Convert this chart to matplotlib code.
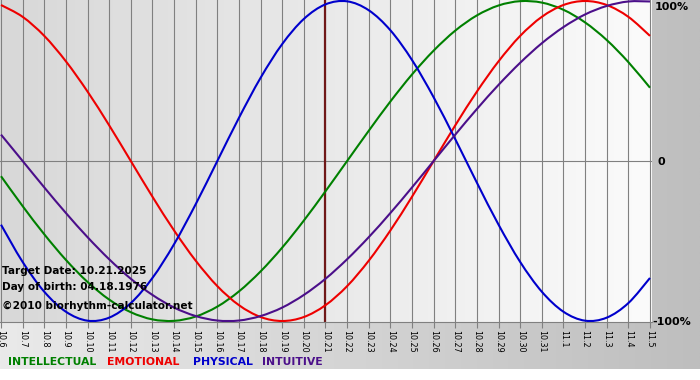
import numpy as np
import matplotlib
matplotlib.use('Agg')
import matplotlib.pyplot as plt
from matplotlib.path import Path
from matplotlib.patches import PathPatch

# days shown: 10.6 .. 11.5
DAY_LABELS = ['10.6', '10.7', '10.8', '10.9', '10.10', '10.11', '10.12', '10.13',
              '10.14', '10.15', '10.16', '10.17', '10.18', '10.19', '10.20', '10.21',
              '10.22', '10.23', '10.24', '10.25', '10.26', '10.27', '10.28', '10.29',
              '10.30', '10.31', '11.1', '11.2', '11.3', '11.4', '11.5']
TARGET_IDX = 15  # 10.21

# values read per day (fraction of 100%)
INTELLECTUAL = [-0.095, -0.282, -0.458, -0.618, -0.756, -0.866, -0.945, -0.990,
                -0.999, -0.972, -0.910, -0.815, -0.690, -0.541, -0.372, -0.189,
                0.0, 0.189, 0.372, 0.541, 0.690, 0.815, 0.910, 0.972,
                0.999, 0.990, 0.945, 0.866, 0.756, 0.618, 0.458]
EMOTIONAL = [0.975, 0.901, 0.782, 0.623, 0.434, 0.223, 0.0, -0.223,
             -0.434, -0.623, -0.782, -0.901, -0.975, -1.0, -0.975, -0.901,
             -0.782, -0.623, -0.434, -0.223, 0.0, 0.223, 0.434, 0.623,
             0.782, 0.901, 0.975, 1.0, 0.975, 0.901, 0.782]
PHYSICAL = [-0.398, -0.631, -0.817, -0.942, -0.998, -0.979, -0.888, -0.731,
            -0.520, -0.270, 0.0, 0.270, 0.520, 0.731, 0.888, 0.979,
            0.998, 0.942, 0.817, 0.631, 0.398, 0.136, -0.136, -0.398,
            -0.631, -0.817, -0.942, -0.998, -0.979, -0.888, -0.731]
INTUITIVE = [0.165, 0.0, -0.165, -0.325, -0.476, -0.614, -0.736, -0.837,
             -0.916, -0.969, -0.997, -0.997, -0.969, -0.916, -0.837, -0.736,
             -0.614, -0.476, -0.325, -0.165, 0.0, 0.165, 0.325, 0.476,
             0.614, 0.736, 0.837, 0.916, 0.969, 0.997, 0.997]

SERIES = [('INTELLECTUAL', INTELLECTUAL, '#008000'),
          ('EMOTIONAL', EMOTIONAL, '#ee0000'),
          ('PHYSICAL', PHYSICAL, '#0000cc'),
          ('INTUITIVE', INTUITIVE, '#4b0f8a')]
LEGEND_X = [8, 107, 193, 262]

W, H = 700, 380
fig = plt.figure(figsize=(W / 100, H / 100), dpi=100, facecolor='white')

def px(x, y):
    return x / W, 1 - y / H

def hgrad(lo, hi):
    g = np.linspace(lo, hi, 256) / 255
    return np.dstack([g, g, g]).repeat(2, axis=0)

def smooth_path(xs, ys):
    # draw a smooth curve through the points (Catmull-Rom as cubic Beziers)
    xs, ys = np.asarray(xs, float), np.asarray(ys, float)
    verts = [(xs[0], ys[0])]
    codes = [Path.MOVETO]
    n = len(xs)
    for i in range(n - 1):
        p0 = (xs[max(i - 1, 0)], ys[max(i - 1, 0)])
        p1 = (xs[i], ys[i])
        p2 = (xs[i + 1], ys[i + 1])
        p3 = (xs[min(i + 2, n - 1)], ys[min(i + 2, n - 1)])
        c1 = (p1[0] + (p2[0] - p0[0]) / 6, p1[1] + (p2[1] - p0[1]) / 6)
        c2 = (p2[0] - (p3[0] - p1[0]) / 6, p2[1] - (p3[1] - p1[1]) / 6)
        verts += [c1, c2, p2]
        codes += [Path.CURVE4] * 3
    return Path(verts, codes)

# outer gray gradient background
bg = fig.add_axes([0, 0, 1, 1])
bg.set_zorder(0)
bg.imshow(hgrad(234, 190), aspect='auto', extent=[0, W, H - 369, H],
          interpolation='bilinear')
bg.set_xlim(0, W)
bg.set_ylim(0, H)
bg.axis('off')

# plot area: pixels x 0..652, y 0..322
ax = fig.add_axes([0, 1 - 322 / H, 652 / W, 322 / H])
ax.set_zorder(1)
x = np.arange(len(DAY_LABELS))
x0, x1 = -1 / 21.633, 651 / 21.633
ax.imshow(hgrad(216, 251), aspect='auto', extent=[x0, x1, -1.1, 1.1],
          interpolation='bilinear', zorder=0)
ax.set_xlim(x0, x1)
ax.set_ylim(-1.00625, 1.00625)

ax.set_xticks(x)
ax.set_xticklabels(DAY_LABELS, rotation=270, fontsize=5.8, va='top', ha='center')
ax.set_yticks([])
ax.grid(axis='x', color='#808080', lw=0.8, zorder=1)
ax.axhline(0, color='#808080', lw=0.8, zorder=1)
ax.tick_params(axis='x', direction='out', length=4, width=0.8, color='#808080',
               pad=1.5, labelcolor='black')
for s in ['top', 'left', 'right']:
    ax.spines[s].set_visible(False)
ax.spines['bottom'].set_color('#808080')
ax.spines['bottom'].set_linewidth(0.8)

ax.axvline(TARGET_IDX, color='#701818', lw=1.6, zorder=2)

for name, vals, col in SERIES:
    ax.add_patch(PathPatch(smooth_path(x, vals), fill=False, edgecolor=col,
                           lw=1.5, zorder=3))

# info text inside plot
info = [('Target Date: 10.21.2025', 271), ('Day of birth: 04.18.1976', 287),
        ('\u00a92010 biorhythm-calculator.net', 306)]
for txt, yy in info:
    fig.text(*px(2, yy), txt, fontsize=7.6, fontweight='bold', color='black',
             va='center', ha='left', zorder=5)

# right labels
fig.text(*px(655, 7), '100%', fontsize=8, fontweight='bold', va='center', ha='left')
fig.text(*px(658, 162), '0', fontsize=8, fontweight='bold', va='center', ha='left')
fig.text(*px(652, 322), '-100%', fontsize=8, fontweight='bold', va='center', ha='left')

# legend line
for (name, vals, col), lx in zip(SERIES, LEGEND_X):
    fig.text(*px(lx, 362), name, fontsize=7.8, fontweight='bold', color=col,
             va='center', ha='left')

fig.savefig('out.png', dpi=100, facecolor='white')
